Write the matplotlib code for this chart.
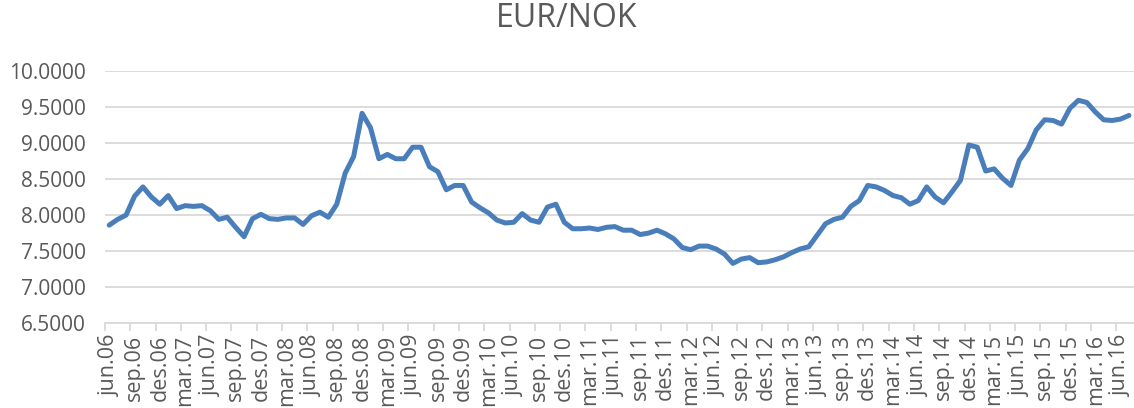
"""
EUR/NOK monthly exchange rate, jun.06 - jul.16.
"""
import matplotlib
matplotlib.use("Agg")
import matplotlib.pyplot as plt
from matplotlib.ticker import FixedLocator

# month labels (Norwegian short names) and start of the series
month_names = ["jan", "feb", "mar", "apr", "mai", "jun", "jul", "aug", "sep", "okt", "nov", "des"]
start_year = 2006
start_month = 6  # june

# monthly EUR/NOK
eur_nok = [
    7.86, 7.94, 8.00, 8.26, 8.39, 8.25, 8.15, 8.27, 8.09, 8.13, 8.12, 8.13,
    8.06, 7.94, 7.97, 7.83, 7.70, 7.95, 8.01, 7.95, 7.94, 7.96, 7.96, 7.87,
    7.99, 8.04, 7.97, 8.15, 8.58, 8.81, 9.41, 9.21, 8.78, 8.84, 8.78, 8.78,
    8.94, 8.94, 8.67, 8.60, 8.35, 8.41, 8.41, 8.18, 8.10, 8.03, 7.93, 7.89,
    7.90, 8.02, 7.93, 7.90, 8.11, 8.15, 7.90, 7.81, 7.81, 7.82, 7.80, 7.83,
    7.84, 7.79, 7.79, 7.73, 7.75, 7.79, 7.74, 7.67, 7.55, 7.52, 7.57, 7.57,
    7.53, 7.46, 7.33, 7.39, 7.41, 7.34, 7.35, 7.38, 7.42, 7.48, 7.53, 7.56,
    7.72, 7.88, 7.94, 7.97, 8.12, 8.20, 8.41, 8.39, 8.34, 8.27, 8.24, 8.15,
    8.20, 8.39, 8.25, 8.17, 8.32, 8.48, 8.97, 8.94, 8.61, 8.64, 8.51, 8.41,
    8.76, 8.92, 9.18, 9.32, 9.31, 9.26, 9.48, 9.59, 9.56, 9.43, 9.32, 9.31,
    9.33, 9.38,
]

yticks = [6.5, 7.0, 7.5, 8.0, 8.5, 9.0, 9.5, 10.0]

# build category labels
labels = []
for i in range(len(eur_nok)):
    m = (start_month - 1 + i) % 12
    y = start_year + (start_month - 1 + i) // 12
    labels.append(f"{month_names[m]}.{y % 100:02d}")

plt.rcParams["font.family"] = ["Open Sans", "DejaVu Sans"]
text_color = "#595959"
grid_color = "#d9d9d9"

fig = plt.figure(figsize=(11.34, 4.08), dpi=100)
ax = fig.add_axes([0.0926, 0.2076, 0.9074, 0.6191])

x = list(range(len(eur_nok)))
ax.plot(x, eur_nok, color="#4a7ebb", linewidth=3.6, solid_joinstyle="round",
        solid_capstyle="round", clip_on=False, zorder=3)

ax.set_xlim(-0.5, len(eur_nok) - 0.4)
ax.set_ylim(6.5, 10.0)
ax.set_yticks(yticks)
ax.set_yticklabels([f"{v:.4f}" for v in yticks])
ax.yaxis.grid(True, color=grid_color, linewidth=1.3)
ax.set_axisbelow(True)

label_idx = list(range(0, len(eur_nok), 3))
ax.set_xticks(label_idx)
ax.set_xticklabels([labels[i] for i in label_idx], rotation=90)
ax.xaxis.set_minor_locator(FixedLocator([i - 0.5 for i in range(0, len(eur_nok) + 1, 3)]))
ax.tick_params(axis="x", which="major", length=0, pad=8, labelsize=15.5, labelcolor=text_color)
ax.tick_params(axis="x", which="minor", length=6, width=1.3, color=grid_color)
ax.tick_params(axis="y", length=0, pad=14, labelsize=15, labelcolor=text_color)

for side in ["top", "right", "left"]:
    ax.spines[side].set_visible(False)
ax.spines["bottom"].set_color(grid_color)
ax.spines["bottom"].set_linewidth(1.3)

fig.text(0.5, 0.955, "EUR/NOK", ha="center", va="center", fontsize=23, color=text_color)

plt.savefig("out.png", dpi=100)
plt.close()
